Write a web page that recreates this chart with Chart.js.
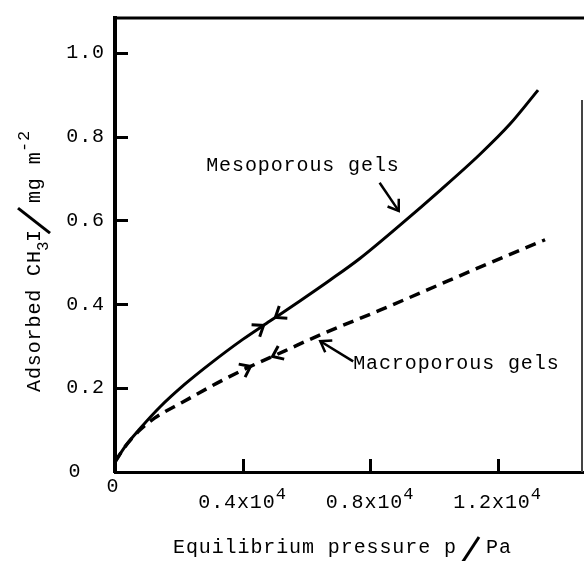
<!DOCTYPE html>
<html>
<head>
<meta charset="utf-8">
<script src="https://cdn.jsdelivr.net/npm/chart.js@4.4.1/dist/chart.umd.min.js"></script>
<style>
  html, body { margin: 0; padding: 0; background: #fff; }
  #wrap { width: 584px; height: 561px; }
</style>
</head>
<body>
<div id="wrap"><canvas id="isotherm" width="584" height="561"></canvas></div>
<script>
// Equilibrium pressure (Pa) vs adsorbed CH3I (mg m^-2)
const mesoPressure = [0, 310, 780, 1410, 2200, 2980, 4020, 4860, 5800, 6750, 7690, 8940, 10200, 11450, 12390, 13270];
const mesoAdsorbed = [0.024, 0.060, 0.103, 0.155, 0.210, 0.258, 0.317, 0.360, 0.408, 0.458, 0.510, 0.589, 0.672, 0.758, 0.830, 0.911];

const macroPressure = [0, 310, 780, 1250, 2130, 3200, 4140, 5330, 6490, 8310, 9570, 11670, 13490];
const macroAdsorbed = [0.024, 0.060, 0.100, 0.129, 0.167, 0.212, 0.248, 0.289, 0.329, 0.386, 0.427, 0.496, 0.554];

const xTicks = [0, 4000, 8000, 12000];
const xTickLabels = ['0', '0.4x10', '0.8x10', '1.2x10'];
const yTicks = [0, 0.2, 0.4, 0.6, 0.8, 1.0];
const yTickLabels = ['0', '0.2', '0.4', '0.6', '0.8', '1.0'];

// curve direction arrows: dataset, pressure at tip, +1 forward / -1 backward
const curveArrows = [
    { ds: 0, p: 4660, dir: 1 },
    { ds: 0, p: 5030, dir: -1 },
    { ds: 1, p: 4250, dir: 1 },
    { ds: 1, p: 4940, dir: -1 }
];

// labels with pointer arrows, in data units
const labels = [
    { text: 'Mesoporous gels', at: [2860, 0.718], from: [8300, 0.690], to: [8900, 0.623] },
    { text: 'Macroporous gels', at: [7470, 0.246], from: [7470, 0.264], to: [6440, 0.312] }
];

const FONT = '"Liberation Mono", "Courier New", monospace';

const toXY = (xs, ys) => xs.map((v, i) => ({ x: v, y: ys[i] }));

// point on a dataset (linear between read points) in pixels
const curvePixel = (chart, ds, p) => {
    const pts = chart.data.datasets[ds].data;
    let i = 1;
    while (i < pts.length - 1 && pts[i].x < p) i++;
    const a = pts[i - 1], b = pts[i];
    const t = (p - a.x) / (b.x - a.x);
    const v = a.y + t * (b.y - a.y);
    return { x: chart.scales.x.getPixelForValue(p), y: chart.scales.y.getPixelForValue(v) };
};

const drawHead = (ctx, tip, back, len, spread) => {
    const ang = Math.atan2(back.y - tip.y, back.x - tip.x);
    ctx.beginPath();
    ctx.moveTo(tip.x + len * Math.cos(ang + spread), tip.y + len * Math.sin(ang + spread));
    ctx.lineTo(tip.x, tip.y);
    ctx.lineTo(tip.x + len * Math.cos(ang - spread), tip.y + len * Math.sin(ang - spread));
    ctx.stroke();
};

const typewriterPlugin = {
    id: 'typewriter',
    afterDraw: (chart) => {
        const { ctx, chartArea: area, scales: { x, y } } = chart;
        ctx.save();
        ctx.strokeStyle = '#000';
        ctx.fillStyle = '#000';
        ctx.lineCap = 'butt';

        // frame: top and right edge
        ctx.lineWidth = 3;
        ctx.beginPath();
        ctx.moveTo(area.left - 2, area.top);
        ctx.lineTo(584, area.top);
        ctx.stroke();
        ctx.lineWidth = 2;
        ctx.strokeStyle = '#444';
        ctx.beginPath();
        ctx.moveTo(582, 100);
        ctx.lineTo(582, area.bottom);
        ctx.stroke();
        ctx.strokeStyle = '#000';

        // inward ticks
        ctx.lineWidth = 3;
        yTicks.forEach(v => {
            if (v === 0) return;
            const py = Math.round(y.getPixelForValue(v)) + 0.5;
            ctx.beginPath();
            ctx.moveTo(area.left, py);
            ctx.lineTo(area.left + 13, py);
            ctx.stroke();
        });
        xTicks.forEach(v => {
            if (v === 0) return;
            const px = Math.round(x.getPixelForValue(v)) + 0.5;
            ctx.beginPath();
            ctx.moveTo(px, area.bottom);
            ctx.lineTo(px, area.bottom - 13);
            ctx.stroke();
        });

        // tick labels
        ctx.letterSpacing = '0.9px';
        ctx.font = '20px ' + FONT;
        ctx.textBaseline = 'middle';
        yTicks.forEach((v, i) => {
            const py = y.getPixelForValue(v);
            if (v === 0) {
                ctx.textAlign = 'center';
                ctx.fillText(yTickLabels[i], 75, py);
            } else {
                ctx.textAlign = 'right';
                ctx.fillText(yTickLabels[i], 105, py);
            }
        });
        ctx.textBaseline = 'alphabetic';
        xTicks.forEach((v, i) => {
            const px = x.getPixelForValue(v);
            ctx.font = '20px ' + FONT;
            if (v === 0) {
                ctx.textAlign = 'center';
                ctx.fillText(xTickLabels[i], px - 2, 492);
                return;
            }
            ctx.textAlign = 'left';
            const w = ctx.measureText(xTickLabels[i]).width;
            ctx.font = '17px ' + FONT;
            const ws = ctx.measureText('4').width;
            const x0 = px - (w + ws) / 2;
            ctx.font = '20px ' + FONT;
            ctx.fillText(xTickLabels[i], x0, 508);
            ctx.font = '17px ' + FONT;
            ctx.fillText('4', x0 + w, 499);
        });

        // x title
        ctx.font = '20px ' + FONT;
        ctx.textAlign = 'left';
        ctx.fillText('Equilibrium pressure p', 173, 553);
        ctx.lineWidth = 3;
        ctx.beginPath();
        ctx.moveTo(462, 563);
        ctx.lineTo(479, 537);
        ctx.stroke();
        ctx.fillText('Pa', 486, 553);

        // y title, rotated
        ctx.save();
        ctx.translate(40, 392);
        ctx.rotate(-Math.PI / 2);
        ctx.font = '20px ' + FONT;
        ctx.fillText('Adsorbed CH', 0, 0);
        const w = ctx.measureText('Adsorbed CH').width;
        ctx.font = '16px ' + FONT;
        ctx.fillText('3', w - 1, 8);
        ctx.font = '20px ' + FONT;
        ctx.fillText('I', w + 8, 0);
        ctx.beginPath();
        ctx.moveTo(w + 17, 10);
        ctx.lineTo(w + 42, -22);
        ctx.stroke();
        ctx.fillText('mg m', w + 47, 0);
        ctx.font = '17px ' + FONT;
        ctx.fillText('-2', w + 98, -11);
        ctx.restore();

        // labels and pointer arrows
        ctx.font = '20px ' + FONT;
        ctx.textAlign = 'left';
        ctx.lineWidth = 2.5;
        labels.forEach(l => {
            ctx.fillText(l.text, x.getPixelForValue(l.at[0]), y.getPixelForValue(l.at[1]));
            const a = { x: x.getPixelForValue(l.from[0]), y: y.getPixelForValue(l.from[1]) };
            const b = { x: x.getPixelForValue(l.to[0]), y: y.getPixelForValue(l.to[1]) };
            ctx.beginPath();
            ctx.moveTo(a.x, a.y);
            ctx.lineTo(b.x, b.y);
            ctx.stroke();
            drawHead(ctx, b, a, 12, 0.6);
        });

        // direction heads on the curves
        ctx.lineWidth = 3;
        curveArrows.forEach(c => {
            const tip = curvePixel(chart, c.ds, c.p);
            const back = curvePixel(chart, c.ds, c.p - 400 * c.dir);
            drawHead(ctx, tip, back, 12, 0.65);
        });

        ctx.restore();
    }
};

new Chart(document.getElementById('isotherm'), {
    type: 'line',
    data: {
        datasets: [
            {
                label: 'Mesoporous gels',
                data: toXY(mesoPressure, mesoAdsorbed),
                borderColor: '#000',
                borderWidth: 3,
                pointRadius: 0,
                cubicInterpolationMode: 'monotone'
            },
            {
                label: 'Macroporous gels',
                data: toXY(macroPressure, macroAdsorbed),
                borderColor: '#000',
                borderWidth: 3.5,
                borderDash: [11, 7],
                pointRadius: 0,
                cubicInterpolationMode: 'monotone'
            }
        ]
    },
    options: {
        responsive: false,
        animation: false,
        devicePixelRatio: 1,
        layout: { padding: { top: 18, right: 1, left: 0, bottom: 0 } },
        plugins: { legend: { display: false }, tooltip: { enabled: false } },
        scales: {
            x: {
                type: 'linear',
                min: 0,
                max: 14680,
                ticks: { display: false },
                grid: { display: true, drawOnChartArea: false, drawTicks: false },
                border: { display: true, width: 3, color: '#000' },
                afterFit: (s) => { s.height = 89; }
            },
            y: {
                type: 'linear',
                min: 0,
                max: 1.083,
                ticks: { display: false },
                grid: { display: true, drawOnChartArea: false, drawTicks: false },
                border: { display: true, width: 4, color: '#000' },
                afterFit: (s) => { s.width = 115; }
            }
        }
    },
    plugins: [typewriterPlugin]
});
</script>
</body>
</html>
